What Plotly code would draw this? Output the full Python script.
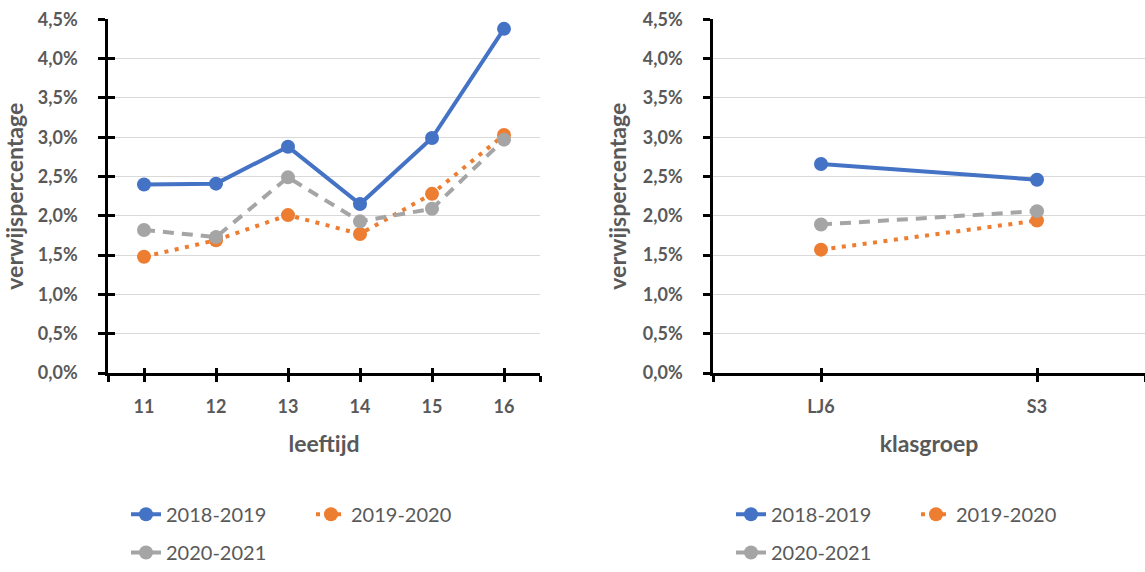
import plotly.graph_objects as go

# --- data -----------------------------------------------------------------
leeftijd = ["11", "12", "13", "14", "15", "16"]
klasgroep = ["LJ6", "S3"]
jaren = ["2018-2019", "2019-2020", "2020-2021"]

# verwijspercentage (%) per leeftijd
leeftijd_2018_2019 = [2.40, 2.41, 2.88, 2.15, 2.99, 4.38]
leeftijd_2019_2020 = [1.48, 1.69, 2.01, 1.77, 2.28, 3.03]
leeftijd_2020_2021 = [1.82, 1.73, 2.49, 1.93, 2.09, 2.97]

# verwijspercentage (%) per klasgroep
klasgroep_2018_2019 = [2.66, 2.46]
klasgroep_2019_2020 = [1.57, 1.94]
klasgroep_2020_2021 = [1.89, 2.06]

y_max = 4.5
y_step = 0.5

# --- styling --------------------------------------------------------------
W, H = 1145, 572
FONT = "Lato"
GREY_TXT = "#595959"
colors = ["#4472C4", "#ED7D31", "#A5A5A5"]
dashes = ["solid", "4px,6.5px", "11px,8px"]

left_series = [leeftijd_2018_2019, leeftijd_2019_2020, leeftijd_2020_2021]
right_series = [klasgroep_2018_2019, klasgroep_2019_2020, klasgroep_2020_2021]

x_left = list(range(len(leeftijd)))
x_right = list(range(len(klasgroep)))

fig = go.Figure()

# left panel: rows 1/2 of the legend under it are "legend" and "legend2"
for i, (name, vals) in enumerate(zip(jaren, left_series)):
    fig.add_trace(go.Scatter(
        x=x_left, y=vals, name=name, mode="lines+markers",
        line=dict(color=colors[i], width=4, dash=dashes[i]),
        marker=dict(color=colors[i], size=14),
        xaxis="x", yaxis="y",
        legend="legend" if i < 2 else "legend2",
    ))

# right panel: legends "legend3" and "legend4"
for i, (name, vals) in enumerate(zip(jaren, right_series)):
    fig.add_trace(go.Scatter(
        x=x_right, y=vals, name=name, mode="lines+markers",
        line=dict(color=colors[i], width=4, dash=dashes[i]),
        marker=dict(color=colors[i], size=14),
        xaxis="x2", yaxis="y2",
        legend="legend3" if i < 2 else "legend4",
    ))

# empty traces that carry the inward half of the crossing tick marks
for xa, ya in [("x3", "y"), ("x", "y3"), ("x4", "y2"), ("x2", "y4")]:
    fig.add_trace(go.Scatter(x=[], y=[], xaxis=xa, yaxis=ya,
                             showlegend=False, hoverinfo="skip"))

ydom = [1 - 375 / H, 1 - 19.5 / H]
xdom_l = [108 / W, 540 / W]
xdom_r = [713 / W, 1.0]

tickfont = dict(family=FONT, size=18, color=GREY_TXT, weight="bold")
titlefont = dict(family=FONT, size=23, color=GREY_TXT, weight="bold")


def x_axis(labels, domain, anchor, title):
    n = len(labels)
    return dict(
        domain=domain, anchor=anchor, range=[-0.5, n - 0.5],
        tickmode="array",
        tickvals=[-0.5] + list(range(n)) + [n - 0.5],
        ticktext=[""] + labels + [""],
        ticks="outside", ticklen=6, tickwidth=2.5, tickcolor="black",
        ticklabelstandoff=10,
        showline=True, linecolor="black", linewidth=2.5,
        showgrid=False, zeroline=False, tickfont=tickfont,
        title=dict(text=title, font=titlefont, standoff=20),
        automargin=False, fixedrange=True,
    )


def y_axis(domain, anchor):
    return dict(
        domain=domain, anchor=anchor, range=[0, y_max],
        tickmode="linear", tick0=0, dtick=y_step,
        tickformat=".1f", ticksuffix="%",
        ticks="outside", ticklen=7, tickwidth=2.5, tickcolor="black",
        ticklabelstandoff=17,
        showline=True, linecolor="black", linewidth=2.5,
        showgrid=True, gridcolor="#D9D9D9", gridwidth=1.3,
        zeroline=False, tickfont=tickfont,
        title=dict(text="verwijspercentage", font=titlefont, standoff=10),
        automargin=False, fixedrange=True,
    )


def x_inner(over, labels):
    n = len(labels)
    return dict(overlaying=over, range=[-0.5, n - 0.5], tickmode="array",
                tickvals=[-0.5] + list(range(n)) + [n - 0.5],
                ticks="inside", ticklen=5, tickwidth=2.5, tickcolor="black",
                showticklabels=False, showgrid=False, zeroline=False,
                showline=False, automargin=False, fixedrange=True)


def y_inner(over):
    return dict(overlaying=over, range=[0, y_max], tickmode="linear",
                tick0=0, dtick=y_step, ticks="inside", ticklen=7,
                tickwidth=2.5, tickcolor="black", showticklabels=False,
                showgrid=False, zeroline=False, showline=False,
                automargin=False, fixedrange=True)


legend_font = dict(family=FONT, size=20, color=GREY_TXT)


def legend(x, y):
    return dict(orientation="h", x=x / W, y=1 - y / H, xanchor="left",
                yanchor="middle", font=legend_font, entrywidth=140,
                bgcolor="rgba(0,0,0,0)", itemclick=False,
                itemdoubleclick=False)


fig.update_layout(
    width=W, height=H,
    margin=dict(l=0, r=0, t=0, b=0),
    paper_bgcolor="white", plot_bgcolor="white",
    separators=",.",
    showlegend=True,
    xaxis=x_axis(leeftijd, xdom_l, "y", "leeftijd"),
    yaxis=y_axis(ydom, "x"),
    xaxis2=x_axis(klasgroep, xdom_r, "y2", "klasgroep"),
    yaxis2=y_axis(ydom, "x2"),
    xaxis3=x_inner("x", leeftijd),
    yaxis3=y_inner("y"),
    xaxis4=x_inner("x2", klasgroep),
    yaxis4=y_inner("y2"),
    legend=legend(126, 517),
    legend2=legend(126, 555.5),
    legend3=legend(731, 517),
    legend4=legend(731, 555.5),
)

fig.write_html("out.html")
